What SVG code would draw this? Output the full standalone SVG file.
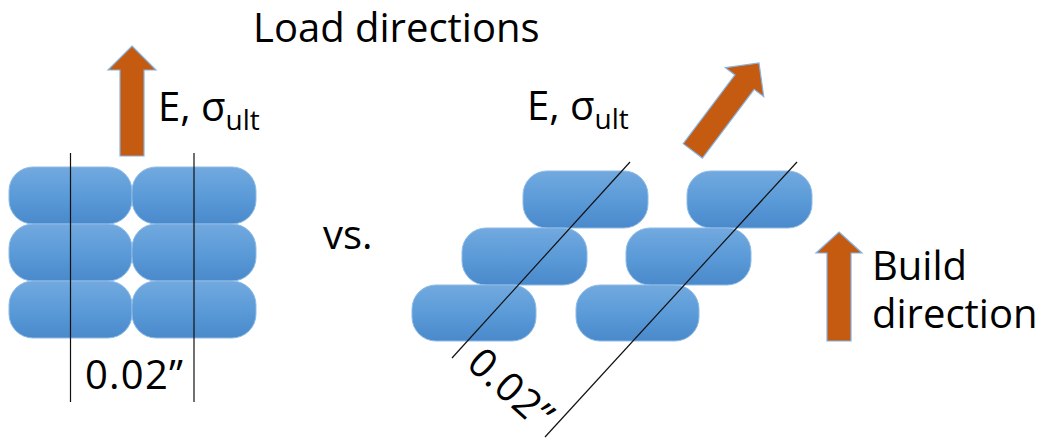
<svg xmlns="http://www.w3.org/2000/svg" width="1044" height="438" viewBox="0 0 1044 438">
<defs>
<linearGradient id="g" x1="0" y1="0" x2="0" y2="1">
<stop offset="0" stop-color="#72a9df"/>
<stop offset="0.5" stop-color="#5b9bd8"/>
<stop offset="1" stop-color="#4a89cb"/>
</linearGradient>
<style>
.pill{fill:url(#g);stroke:#8dbbe6;stroke-width:1}
.arrow{fill:#c55a11;stroke:#84b3e2;stroke-width:1.2}
.t{font-family:"Open Sans","Liberation Sans",sans-serif;font-size:40px;fill:#000}
.sub{font-size:28px}
.ln{stroke:#111;stroke-width:1.2;fill:none}
</style>
</defs>
<rect width="1044" height="438" fill="#fff"/>
<text class="t" x="253" y="42">Load directions</text>
<g id="left-stack">
<rect class="pill" x="9" y="167" width="123" height="57" rx="24"/>
<rect class="pill" x="132" y="167" width="124" height="57" rx="24"/>
<rect class="pill" x="9" y="224" width="123" height="57" rx="24"/>
<rect class="pill" x="132" y="224" width="124" height="57" rx="24"/>
<rect class="pill" x="9" y="281" width="123" height="57" rx="24"/>
<rect class="pill" x="132" y="281" width="124" height="57" rx="24"/>
</g>
<g id="right-stack">
<rect class="pill" x="523" y="171" width="125" height="57" rx="24"/>
<rect class="pill" x="687" y="171" width="125" height="57" rx="24"/>
<rect class="pill" x="462" y="228" width="125" height="57" rx="24"/>
<rect class="pill" x="626" y="228" width="125" height="57" rx="24"/>
<rect class="pill" x="412" y="285" width="124" height="56" rx="24"/>
<rect class="pill" x="576" y="285" width="123" height="56" rx="24"/>
</g>
<g id="connectors">
<line class="ln" x1="70.5" y1="153" x2="70.5" y2="402"/>
<line class="ln" x1="194" y1="153" x2="194" y2="402"/>
<line class="ln" x1="630" y1="162" x2="452" y2="358"/>
<line class="ln" x1="797" y1="162" x2="545" y2="437"/>
</g>
<g id="arrow-left">
<polygon class="arrow" transform="translate(132,46)" points="0,0 24,24 12,24 12,110 -12,110 -12,24 -24,24"/>
</g>
<g id="arrow-diagonal">
<polygon class="arrow" transform="translate(759,63) rotate(37)" points="0,0 24,24 12,24 12,110 -12,110 -12,24 -24,24"/>
</g>
<g id="arrow-build">
<polygon class="arrow" transform="translate(839,232)" points="0,0 23,21 12,21 12,109 -12,109 -12,21 -23,21"/>
</g>
<g id="labels">
<text class="t" x="158" y="121">E, σ<tspan class="sub" dy="9">ult</tspan></text>
<text class="t" x="527" y="120">E, σ<tspan class="sub" dy="9">ult</tspan></text>
<text class="t" x="323" y="249">vs.</text>
<text class="t" x="872" y="280">Build</text>
<text class="t" x="872" y="328">direction</text>
<text class="t" x="85" y="389" textLength="98">0.02”</text>
<text class="t" transform="translate(465,366) rotate(42)" x="0" y="0" textLength="98">0.02”</text>
</g>
</svg>
